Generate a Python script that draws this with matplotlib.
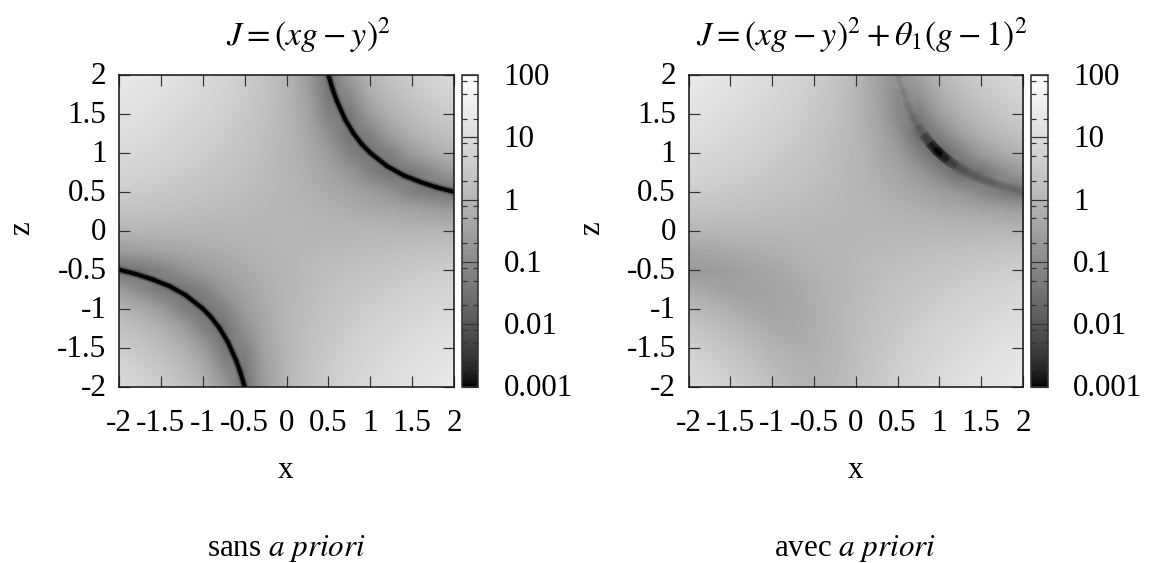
import numpy as np
import matplotlib
matplotlib.use("Agg")
import matplotlib.pyplot as plt
from matplotlib.collections import LineCollection
from matplotlib.colors import ListedColormap, Normalize
from matplotlib.transforms import ScaledTranslation

# Values: log10(J) on a coarse grid, rows from z=2 down to z=-2
grid_x = [-2, -1.75, -1.5, -1.25, -1, -0.75, -0.5, -0.25, 0, 0.25, 0.5, 0.75, 1, 1.25, 1.5, 1.75, 2]
log_j_left = [
    [1.40, 1.31, 1.20, 1.09, .95, .80, .60, .35, 0, -.60, -1.5, -.60, 0, .35, .60, .80, .95],
    [1.31, 1.22, 1.12, 1.01, .88, .73, .55, .32, 0, -.50, -1.4, -1.02, -.25, .15, .42, .63, .80],
    [1.20, 1.12, 1.02, .92, .80, .66, .49, .28, 0, -.41, -1.20, -1.4, -.60, -.11, .19, .42, .60],
    [1.09, 1.01, .92, .82, .70, .58, .42, .23, 0, -.32, -.86, -1.5, -1.20, -.50, -.11, .15, .35],
    [.95, .88, .80, .70, .60, .49, .35, .19, 0, -.25, -.60, -1.20, -1.5, -1.20, -.60, -.25, 0],
    [.80, .73, .66, .58, .49, .39, .28, .15, 0, -.18, -.41, -.71, -1.20, -1.5, -1.4, -1.02, -.60],
    [.60, .55, .49, .42, .35, .28, .19, .11, 0, -.11, -.25, -.40, -.60, -.84, -1.20, -1.4, -1.5],
    [.35, .32, .28, .23, .19, .15, .11, .05, 0, -.05, -.11, -.18, -.25, -.32, -.40, -.50, -.60],
    [0, 0, 0, 0, 0, 0, 0, 0, 0, 0, 0, 0, 0, 0, 0, 0, 0],
    [-.60, -.50, -.40, -.32, -.25, -.18, -.11, -.05, 0, .05, .11, .15, .19, .23, .28, .32, .35],
    [-1.5, -1.4, -1.20, -.84, -.60, -.40, -.25, -.11, 0, .11, .19, .28, .35, .42, .49, .55, .60],
    [-.60, -1.02, -1.4, -1.5, -1.20, -.71, -.41, -.18, 0, .15, .28, .39, .49, .58, .66, .73, .80],
    [0, -.25, -.60, -1.20, -1.5, -1.20, -.60, -.25, 0, .19, .35, .49, .60, .70, .80, .88, .95],
    [.35, .15, -.11, -.50, -1.20, -1.5, -.86, -.32, 0, .23, .42, .58, .70, .82, .92, 1.01, 1.09],
    [.60, .42, .19, -.11, -.60, -1.4, -1.20, -.41, 0, .28, .49, .66, .80, .92, 1.02, 1.12, 1.20],
    [.80, .63, .42, .15, -.25, -1.02, -1.4, -.50, 0, .32, .55, .73, .88, 1.01, 1.12, 1.22, 1.31],
    [.95, .80, .60, .35, 0, -.60, -1.5, -.60, 0, .35, .60, .80, .95, 1.09, 1.20, 1.31, 1.40],
]
log_j_right = [
    [1.40, 1.31, 1.21, 1.09, .96, .80, .61, .37, .04, -.46, -.9, -.46, .04, .37, .61, .80, .96],
    [1.31, 1.22, 1.12, 1.01, .88, .73, .55, .33, .02, -.43, -1.05, -.82, -.21, .17, .43, .63, .80],
    [1.20, 1.12, 1.03, .92, .80, .66, .49, .29, .01, -.39, -1.06, -1.3, -.56, -.10, .20, .43, .61],
    [1.09, 1.01, .92, .82, .70, .58, .42, .23, 0, -.32, -.84, -1.7, -1.16, -.49, -.11, .15, .35],
    [.95, .88, .80, .70, .60, .49, .35, .19, 0, -.25, -.60, -1.20, -1.8, -1.20, -.60, -.25, 0],
    [.80, .73, .66, .58, .49, .39, .28, .15, 0, -.18, -.40, -.70, -1.16, -1.7, -1.5, -.99, -.59],
    [.61, .55, .49, .43, .36, .29, .20, .11, .01, -.10, -.23, -.38, -.56, -.77, -1.06, -1.38, -1.60],
    [.36, .33, .29, .25, .21, .17, .12, .07, .03, -.03, -.08, -.15, -.21, -.28, -.35, -.43, -.51],
    [.04, .04, .04, .04, .04, .04, .04, .04, .04, .04, .04, .04, .04, .04, .04, .04, .04],
    [-.39, -.33, -.26, -.20, -.14, -.09, -.03, .02, .06, .11, .16, .20, .24, .27, .31, .35, .38],
    [-.65, -.62, -.54, -.43, -.32, -.21, -.10, 0, .09, .18, .25, .33, .39, .46, .52, .58, .63],
    [-.25, -.40, -.49, -.51, -.43, -.30, -.16, -.02, .12, .24, .34, .44, .53, .61, .68, .75, .82],
    [.15, -.02, -.19, -.34, -.40, -.34, -.19, -.02, .15, .29, .42, .54, .64, .74, .82, .90, .97],
    [.44, .28, .11, -.09, -.25, -.29, -.19, -.01, .18, .35, .50, .63, .75, .85, .94, 1.03, 1.11],
    [.67, .52, .34, .15, -.06, -.19, -.16, 0, .21, .40, .57, .71, .84, .95, 1.05, 1.14, 1.22],
    [.85, .70, .53, .34, .12, -.07, -.11, .03, .25, .45, .63, .79, .92, 1.04, 1.14, 1.24, 1.32],
    [1.00, .85, .69, .50, .28, .06, -.05, .06, .28, .50, .69, .85, 1.00, 1.12, 1.23, 1.33, 1.41],
]

# Dark valley: position and log10(J) along it
left_valley_x = [.5, .55, .6, .7, .8, .9, 1, 1.2, 1.4, 1.6, 1.8, 2]
left_valley_z = [2, 1.82, 1.67, 1.43, 1.25, 1.11, 1, .83, .71, .625, .555, .5]
left_valley_log_j = [-3, -3, -3, -3, -3, -3, -3, -3, -3, -3, -3, -3]
left_valley2_x = [-.5, -.55, -.6, -.7, -.8, -.9, -1, -1.2, -1.4, -1.6, -1.8, -2]
left_valley2_z = [-2, -1.82, -1.67, -1.43, -1.25, -1.11, -1, -.83, -.71, -.625, -.555, -.5]
right_valley_x = [.5, .56, .62, .68, .75, .82, .9, .96, 1.04, 1.12, 1.22, 1.35, 1.5, 1.7, 2]
right_valley_z = [2, 1.8, 1.62, 1.47, 1.33, 1.22, 1.11, 1.04, .96, .89, .82, .74, .67, .59, .5]
right_valley_log_j = [-.95, -1.15, -1.35, -1.6, -1.8, -2.1, -2.7, -3, -3, -2.6, -2.2, -2.0, -1.9, -1.8, -1.6]

xz_ticks = [-2, -1.5, -1, -0.5, 0, 0.5, 1, 1.5, 2]
xz_labels = ["-2", "-1.5", "-1", "-0.5", "0", "0.5", "1", "1.5", "2"]
cb_ticks = [-3, -2, -1, 0, 1, 2]
cb_labels = ["0.001", "0.01", "0.1", "1", "10", "100"]
cb_minor_mult = [2, 5, 8]

plt.rcParams["font.family"] = ["Liberation Serif", "DejaVu Serif"]
plt.rcParams["mathtext.fontset"] = "stix"
FS = 22.4
W, H = 1150, 563
LINE = "#333333"
px = 72 / 100

gray = ListedColormap(np.column_stack([np.linspace(0, 1, 256) ** (2 / 3)] * 3))
norm = Normalize(-3, 2)

fig = plt.figure(figsize=(W / 100, H / 100), dpi=100)


def rect(l, t, r, b):
    return [l / W, 1 - b / H, (r - l) / W, (b - t) / H]


def lift(axis, pixels):
    shift = ScaledTranslation(0, pixels / 100, fig.dpi_scale_trans)
    for lab in axis.get_ticklabels():
        lab.set_transform(lab.get_transform() + shift)


def valley(ax, xs, zs, vals, layers):
    pts = np.column_stack([xs, zs])
    segs = np.stack([pts[:-1], pts[1:]], axis=1)
    vals = np.asarray(vals, float)
    c = (vals[:-1] + vals[1:]) / 2
    for lw, off in layers:
        lc = LineCollection(segs, array=c + off, cmap=gray, norm=norm, linewidths=lw * px,
                            capstyle="round", zorder=2)
        ax.add_collection(lc)


def panel(l, r, cl, cr, table, title, title_x, caption, cx):
    ax = fig.add_axes(rect(l, 75, r, 386.5))
    step = grid_x[1] - grid_x[0]
    ext = [grid_x[0] - step / 2, grid_x[-1] + step / 2,
           grid_x[0] - step / 2, grid_x[-1] + step / 2]
    im = ax.imshow(np.array(table), cmap=gray, norm=norm, extent=ext, origin="upper",
                   interpolation="bilinear", aspect="auto", zorder=1)
    ax.set_xlim(-2, 2)
    ax.set_ylim(-2, 2)
    ax.set_xticks(xz_ticks, xz_labels)
    ax.set_yticks(xz_ticks, xz_labels)
    ax.tick_params(direction="in", length=11 * px, width=1.2 * px, color=LINE,
                   top=True, right=True, labelsize=FS)
    ax.tick_params(axis="x", pad=16)
    ax.tick_params(axis="y", pad=9)
    lift(ax.yaxis, 2)
    for s in ax.spines.values():
        s.set_color("#1a1a1a")
        s.set_linewidth(1.6 * px)
    fig.text(title_x / W, 1 - 35 / H, title, fontsize=24.5, ha="center", va="center")
    fig.text(cx / W, 1 - 471 / H, "x", fontsize=FS, ha="center", va="center")
    fig.text((l - 97) / W, 1 - 228 / H, "z", fontsize=FS, ha="center", va="center", rotation=90)
    fig.text(cx / W, 1 - 548 / H, caption, fontsize=FS, ha="center", va="center")

    cax = fig.add_axes(rect(cl, 75, cr, 386.5))
    cb = fig.colorbar(im, cax=cax)
    cb.set_ticks(cb_ticks, labels=cb_labels)
    minors = [d + np.log10(m) for d in cb_ticks[:-1] for m in cb_minor_mult]
    cax.yaxis.set_ticks(minors, minor=True)
    cax.tick_params(which="major", direction="in", length=(cr - cl) * px, width=1.2 * px,
                    color=LINE, labelsize=FS, pad=18, left=False, right=True)
    cax.tick_params(which="minor", direction="in", length=5 * px, width=1.2 * px,
                    color=LINE, left=True, right=True)
    lift(cax.yaxis, 1)
    cb.outline.set_edgecolor("#333333")
    cb.outline.set_linewidth(1.6 * px)
    return ax


ax1 = panel(119, 454, 462, 478.5, log_j_left, r"$J = (xg - y)^2$", 309,
            r"sans $\mathit{a\ priori}$", 286)
ax2 = panel(688.5, 1023, 1031, 1048, log_j_right,
            r"$J = (xg - y)^2 + \theta_1(g - 1)^2$", 862, r"avec $\mathit{a\ priori}$", 855.5)

left_layers = [(9, 1.5), (6.5, 0.9), (4, 0)]
right_layers = [(10, 0.3), (7, 0.15), (4, 0)]
valley(ax1, left_valley_x, left_valley_z, left_valley_log_j, left_layers)
valley(ax1, left_valley2_x, left_valley2_z, left_valley_log_j, left_layers)
valley(ax2, right_valley_x, right_valley_z, right_valley_log_j, right_layers)

fig.savefig("out.png", dpi=100)
